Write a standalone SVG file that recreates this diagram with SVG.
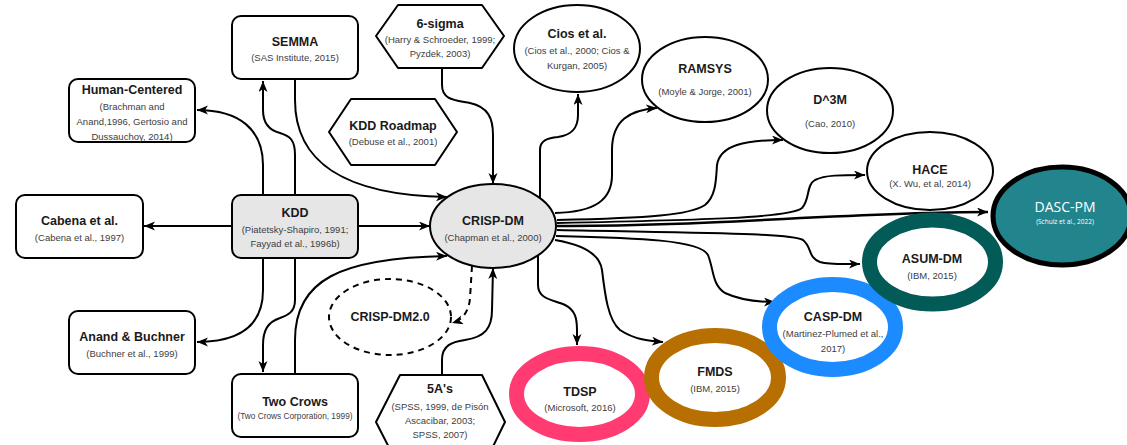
<svg xmlns="http://www.w3.org/2000/svg" width="1127" height="445" viewBox="0 0 1127 445">
  <defs>
    <marker id="arrow" markerUnits="userSpaceOnUse" markerWidth="12" markerHeight="10" refX="11" refY="4.5" orient="auto">
      <path d="M0,0 L11,4.5 L0,9 L3,4.5 Z" fill="#000"/>
    </marker>
    <style>
      .box { fill: #fff; stroke: #000; stroke-width: 2; }
      .grey { fill: #e6e6e6; }
      .ring { fill: #fff; stroke-width: 15; }
      .t { font-family: "Liberation Sans", Arial, sans-serif; font-size: 12.5px; font-weight: bold; fill: #1a1a1a; text-anchor: middle; }
      .s { font-family: "Liberation Sans", Arial, sans-serif; font-size: 9.5px; fill: #3d3d3d; text-anchor: middle; }
      .edge { fill: none; stroke: #000; stroke-width: 2; marker-end: url(#arrow); }
      .dash { stroke-dasharray: 6 5; }
    </style>
  </defs>
  <rect width="1127" height="445" fill="#fff"/>

  <!-- connectors -->
  <g id="connectors">
    <!-- KDD outgoing -->
    <path class="edge" d="M232,226 L144,226"/>
    <path class="edge" d="M358,226 L430,226"/>
    <path class="edge" d="M263,195 L263,165 C263,130 240,110 197,110"/>
    <path class="edge" d="M295,195 L295,155 C295,140 290,136 280,133 C268,130 263,122 263,110 L263,81"/>
    <path class="edge" d="M263,258 L263,290 C263,325 240,342 197,342"/>
    <path class="edge" d="M295,258 L295,300 C295,312 288,315 280,318 C268,322 263,330 263,345 L263,372"/>
    <!-- into CRISP-DM -->
    <path class="edge" d="M295,79 L295,100 C295,160 340,195 447,197"/>
    <path class="edge" d="M295,374 L295,340 C295,280 340,258 447,256"/>
    <path class="edge" d="M442,68 L442,85 C442,100 455,100 470,103 C488,107 493,118 493,135 L493,184"/>
    <path class="edge" d="M442,375 L442,360 C442,345 452,342 465,340 C485,337 492,328 492,310 L493,268"/>
    <path class="edge dash" d="M472,266 L470,298 C469,312 462,320 452,323"/>
    <!-- CRISP-DM outgoing -->
    <path class="edge" d="M540,198 L540,150 C540,140 548,138 558,137 C572,135 578,128 578,115 L578,94"/>
    <path class="edge" d="M555,213 C595,212 612,200 612,175 L612,150 C612,120 630,110 657,108"/>
    <path class="edge" d="M557,220 C650,218 690,215 705,205 C716,196 716,180 717,165 C720,145 745,140 783,140"/>
    <path class="edge" d="M557,223 C700,220 790,218 802,208 C810,200 806,185 815,180 C825,175 840,175 865,175"/>
    <path class="edge" style="stroke-width:2.5" d="M557,226 C700,227 850,212 988,212"/>
    <path class="edge" d="M557,230 C700,233 790,233 803,240 C812,247 808,258 820,262 C830,265 845,264 860,264"/>
    <path class="edge" d="M556,236 C640,238 700,240 708,255 C714,270 712,285 725,293 C740,300 755,302 775,302"/>
    <path class="edge" d="M555,240 C585,245 600,255 602,270 C605,295 608,320 620,330 C635,340 650,341 663,342"/>
    <path class="edge" d="M538,255 L538,285 C538,300 555,300 565,305 C575,310 577,318 577,330 L577,345"/>
  </g>

  <!-- rectangular nodes -->
  <g id="semma">
    <rect class="box" x="232" y="16" width="126" height="63" rx="9"/>
    <text class="t" x="295" y="46">SEMMA</text>
    <text class="s" x="295" y="60.5">(SAS Institute, 2015)</text>
  </g>
  <g id="human-centered">
    <rect class="box" x="69" y="79" width="126" height="63" rx="9"/>
    <text class="t" x="132" y="94">Human-Centered</text>
    <text class="s" x="132" y="109.5">(Brachman and</text>
    <text class="s" x="132" y="124.5">Anand,1996, Gertosio and</text>
    <text class="s" x="132" y="139.5">Dussauchoy, 2014)</text>
  </g>
  <g id="cabena">
    <rect class="box" x="16" y="195" width="127" height="63" rx="9"/>
    <text class="t" x="79.5" y="225">Cabena et al.</text>
    <text class="s" x="79.5" y="240.5">(Cabena et al., 1997)</text>
  </g>
  <g id="kdd">
    <rect class="box grey" x="232" y="195" width="126" height="63" rx="9"/>
    <text class="t" x="295" y="217">KDD</text>
    <text class="s" x="295" y="232.5">(Piatetsky-Shapiro, 1991;</text>
    <text class="s" x="295" y="246.5">Fayyad et al., 1996b)</text>
  </g>
  <g id="anand-buchner">
    <rect class="box" x="69" y="311" width="126" height="63" rx="9"/>
    <text class="t" x="132" y="341">Anand &amp; Buchner</text>
    <text class="s" x="132" y="356.5">(Buchner et al., 1999)</text>
  </g>
  <g id="two-crows">
    <rect class="box" x="232" y="374" width="126" height="63" rx="9"/>
    <text class="t" x="295" y="406">Two Crows</text>
    <text class="s" x="295" y="418.5" textLength="115" lengthAdjust="spacingAndGlyphs">(Two Crows Corporation, 1999)</text>
  </g>

  <!-- hexagon nodes -->
  <g id="six-sigma">
    <path class="box" stroke-linejoin="round" d="M376,36 L398,5 L482,5 L504,36 L482,68 L398,68 Z"/>
    <text class="t" x="440" y="28">6-sigma</text>
    <text class="s" x="440" y="42.5">(Harry &amp; Schroeder, 1999;</text>
    <text class="s" x="440" y="56.5">Pyzdek, 2003)</text>
  </g>
  <g id="kdd-roadmap">
    <path class="box" stroke-linejoin="round" d="M329,132 L351,99 L435,99 L457,132 L435,165 L351,165 Z"/>
    <text class="t" x="393" y="130">KDD Roadmap</text>
    <text class="s" x="393" y="144.5">(Debuse et al., 2001)</text>
  </g>
  <g id="five-as">
    <path class="box" stroke-linejoin="round" d="M376,422 L400,375 L482,375 L505,422 L482,469 L400,469 Z"/>
    <text class="t" x="440" y="393">5A's</text>
    <text class="s" x="440" y="409.5">(SPSS, 1999, de Pisón</text>
    <text class="s" x="440" y="423.5">Ascacibar, 2003;</text>
    <text class="s" x="440" y="437.5">SPSS, 2007)</text>
  </g>

  <!-- elliptical nodes -->
  <g id="crisp-dm">
    <ellipse class="box grey" cx="493" cy="226" rx="63" ry="42"/>
    <text class="t" x="493" y="225">CRISP-DM</text>
    <text class="s" x="493" y="240.5">(Chapman et al., 2000)</text>
  </g>
  <g id="crisp-dm2">
    <ellipse class="box dash" cx="390" cy="317" rx="61" ry="38"/>
    <text class="t" x="390" y="321">CRISP-DM2.0</text>
  </g>
  <g id="cios">
    <ellipse class="box" cx="577" cy="48.5" rx="63" ry="43.5"/>
    <text class="t" x="577" y="38">Cios et al.</text>
    <text class="s" x="577" y="53.5">(Cios et al., 2000; Cios &amp;</text>
    <text class="s" x="577" y="68.5">Kurgan, 2005)</text>
  </g>
  <g id="ramsys">
    <ellipse class="box" cx="705" cy="79.5" rx="63" ry="42.5"/>
    <text class="t" x="705" y="73">RAMSYS</text>
    <text class="s" x="705" y="94.5">(Moyle &amp; Jorge, 2001)</text>
  </g>
  <g id="d3m">
    <ellipse class="box" cx="830" cy="110.5" rx="63" ry="42.5"/>
    <text class="t" x="830" y="104">D^3M</text>
    <text class="s" x="830" y="126.5">(Cao, 2010)</text>
  </g>
  <g id="hace">
    <ellipse class="box" cx="930" cy="171" rx="63" ry="39"/>
    <text class="t" x="930" y="174">HACE</text>
    <text class="s" x="930" y="186.5">(X. Wu, et al, 2014)</text>
  </g>

  <!-- ring-highlighted nodes -->
  <g id="tdsp">
    <ellipse class="ring" stroke="#ff3b72" cx="579.5" cy="394" rx="63" ry="40.5"/>
    <text class="t" x="580" y="396">TDSP</text>
    <text class="s" x="580" y="410.5">(Microsoft, 2016)</text>
  </g>
  <g id="fmds">
    <ellipse class="ring" stroke="#b66f00" cx="715" cy="377.5" rx="63.5" ry="42"/>
    <text class="t" x="715" y="376">FMDS</text>
    <text class="s" x="715" y="391.5">(IBM, 2015)</text>
  </g>
  <g id="casp-dm">
    <ellipse class="ring" stroke="#1b8bff" cx="832.5" cy="327" rx="63" ry="42.5"/>
    <text class="t" x="833" y="321">CASP-DM</text>
    <text class="s" x="833" y="336.5">(Martinez-Plumed et al.,</text>
    <text class="s" x="833" y="351.5">2017)</text>
  </g>
  <g id="asum-dm">
    <ellipse class="ring" stroke="#025b56" cx="932.5" cy="262" rx="63" ry="42"/>
    <text class="t" x="932" y="263">ASUM-DM</text>
    <text class="s" x="932" y="278.5">(IBM, 2015)</text>
  </g>
  <g id="dasc-pm">
    <ellipse cx="1062" cy="216" rx="69" ry="49" fill="#22858e" stroke="#000" stroke-width="5"/>
    <text x="1065" y="212" font-family="'Open Sans', sans-serif" font-size="14" fill="#fff" text-anchor="middle">DASC-PM</text>
    <text x="1065" y="223.5" font-family="'Open Sans', sans-serif" font-size="6.5" fill="#fff" text-anchor="middle">(Schulz et al., 2022)</text>
  </g>
</svg>
